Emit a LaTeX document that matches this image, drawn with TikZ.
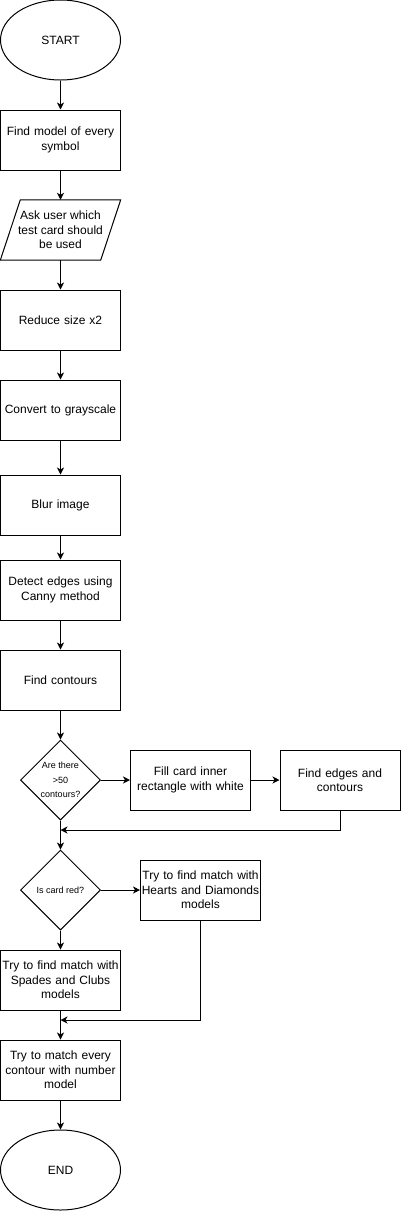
\documentclass[tikz,border=0pt]{standalone}
\usepackage{fontspec}
\setmainfont{Liberation Sans}
\usetikzlibrary{shapes.geometric,arrows.meta,calc}
\begin{document}
\begin{tikzpicture}[x=1pt,y=-1pt,
  every node/.style={font=\fontsize{12}{14.4}\selectfont},
  box/.style={draw, line width=1pt, minimum width=120pt, minimum height=60pt, text width=118pt, align=center, inner sep=0pt},
  term/.style={draw, ellipse, line width=1pt, minimum width=120pt, minimum height=80pt, inner sep=0pt},
  dia/.style={draw, diamond, line width=1pt, minimum width=80pt, minimum height=80pt, inner sep=0pt},
  small/.style={font=\fontsize{9}{14.5}\selectfont, align=center, inner sep=0pt},
  arr/.style={line width=1pt, -{Stealth[length=7pt,width=7pt,inset=2pt]}},
  ln/.style={line width=1pt}]
\useasboundingbox (0,0) rectangle (401,1211);

\node[term] (start) at (60.5,40) {START};
\node[box] (b1) at (60.5,140) {Find model of every\\symbol};
\node[minimum width=120pt, minimum height=60pt, inner sep=0pt, align=center] (ask) at (60.5,230) {Ask user which\\test card should\\be used};
\draw[ln] ($(ask.north west)+(20,0)$) -- (ask.north east) -- ($(ask.south east)-(20,0)$) -- (ask.south west) -- cycle;
\node[box] (reduce) at (60.5,320) {Reduce size x2};
\node[box] (gray) at (60.5,410) {Convert to grayscale};
\node[box] (blur) at (60.5,505) {Blur image};
\node[box] (canny) at (60.5,590) {Detect edges using\\Canny method};
\node[box] (cont) at (60.5,680) {Find contours};
\node[dia] (d1) at (60.5,780) {};
\node[small] (t1) at (60.5,780) {Are there\\>50\\contours?};
\node[box] (fill) at (190.5,780) {Fill card inner\\rectangle with white};
\node[box] (fec) at (340,780) {Find edges and\\contours};
\coordinate (j1) at (60.5,830);
\node[dia] (d2) at (60.5,890) {};
\node[small] (t2) at (60.5,890) {Is card red?};
\node[box] (hd) at (200.5,890) {Try to find match with\\Hearts and Diamonds\\models};
\node[box] (sc) at (60.5,980) {Try to find match with\\Spades and Clubs\\models};
\coordinate (j2) at (60.5,1020);
\node[box] (num) at (60.5,1070) {Try to match every\\contour with number\\model};
\node[term] (end) at (60.5,1170) {END};

\draw[arr] (start) -- (b1);
\draw[arr] (b1) -- (ask);
\draw[arr] (ask) -- (reduce);
\draw[arr] (reduce) -- (gray);
\draw[arr] (gray) -- (blur);
\draw[arr] (blur) -- (canny);
\draw[arr] (canny) -- (cont);
\draw[arr] (cont) -- (d1);
\draw[arr] (d1) -- (fill);
\draw[arr] (fill) -- (fec);
\draw[arr] (fec.south) |- (j1);
\draw[arr] (d1) -- (d2);
\draw[arr] (d2) -- (hd);
\draw[arr] (d2) -- (sc);
\draw[arr] (hd.south) |- (j2);
\draw[arr] (sc) -- (num);
\draw[arr] (num) -- (end);
\end{tikzpicture}
\end{document}
